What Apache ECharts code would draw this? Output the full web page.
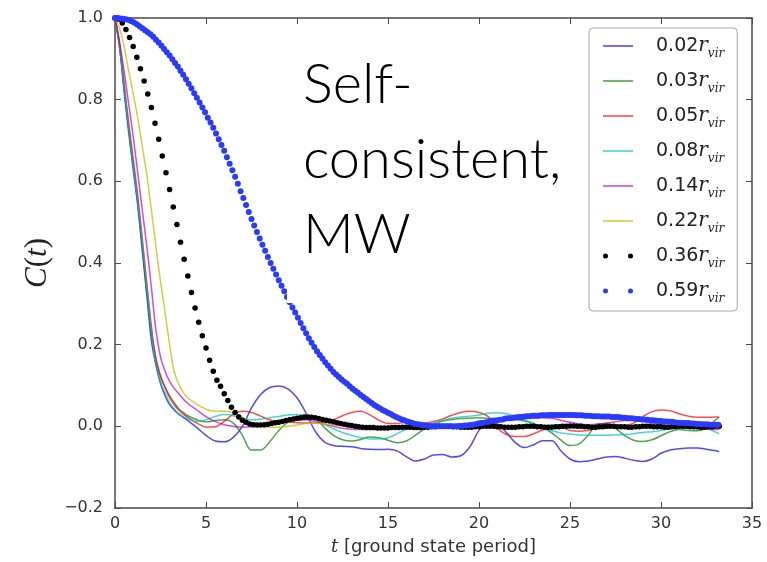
<!DOCTYPE html>
<html><head><meta charset="utf-8">
<script src="https://cdn.jsdelivr.net/npm/echarts@6/dist/echarts.min.js"></script>
<style>html,body{margin:0;padding:0;background:#fff}#c{width:767px;height:562px}</style>
</head><body><div id="c"></div>
<script>
// ---- data ----
const seriesNames = ['0.02','0.03','0.05','0.08','0.14','0.22','0.36','0.59'];
const xTicks = [0,5,10,15,20,25,30,35];
const yTicks = [-0.2,0,0.2,0.4,0.6,0.8,1.0];

const tLine = [0,0.25,0.5,0.75,1,1.25,1.5,1.75,2,2.25,2.5,2.75,3,3.25,3.5,3.75,4,
 4.5,5,5.5,6,6.5,7,7.5,8,8.5,9,9.5,10,10.5,11,11.5,12,12.5,13,13.5,14,14.5,15,15.5,16,16.5,17,17.5,18,18.5,19,19.5,
 20,20.5,21,21.5,22,22.5,23,23.5,24,24.5,25,25.5,26,26.5,27,27.5,28,28.5,29,29.5,30,30.5,31,31.5,32,32.5,33,33.2];

const c002 = [1,0.93,0.82,0.72,0.63,0.54,0.43,0.32,0.21,0.15,0.105,0.075,0.053,0.04,0.03,0.022,0.014,
 -0.003,-0.022,-0.036,-0.038,-0.027,0.0,0.045,0.078,0.095,0.099,0.092,0.07,0.032,-0.012,-0.038,-0.047,-0.049,-0.05,-0.054,
 -0.056,-0.057,-0.056,-0.06,-0.074,-0.085,-0.08,-0.07,-0.069,-0.075,-0.072,-0.05,-0.01,0.008,0.006,-0.015,-0.04,-0.052,
 -0.045,-0.035,-0.035,-0.06,-0.08,-0.087,-0.085,-0.08,-0.075,-0.074,-0.078,-0.083,-0.086,-0.08,-0.066,-0.058,-0.055,
 -0.053,-0.053,-0.056,-0.06,-0.062];
const c003 = [1,0.93,0.83,0.73,0.64,0.55,0.44,0.33,0.23,0.165,0.12,0.097,0.075,0.058,0.043,0.034,0.026,
 0.016,0.011,0.014,0.016,0.008,-0.022,-0.058,-0.058,-0.038,-0.01,0.01,0.022,0.029,0.02,-0.003,-0.022,-0.033,-0.036,-0.032,
 -0.026,-0.028,-0.034,-0.04,-0.036,-0.022,-0.006,0.006,0.013,0.017,0.019,0.02,0.021,0.02,0.018,0.017,0.016,0.013,
 0.007,-0.003,-0.016,-0.034,-0.047,-0.043,-0.022,0.006,0.007,-0.005,-0.022,-0.034,-0.037,-0.033,-0.023,-0.013,-0.008,
 -0.01,-0.011,-0.004,0.016,0.022];
const c005 = [1,0.94,0.84,0.745,0.655,0.565,0.46,0.35,0.245,0.165,0.125,0.095,0.07,0.053,0.04,0.03,0.022,
 0.008,-0.002,-0.001,0.012,0.03,0.037,0.034,0.025,0.016,0.012,0.011,0.009,0.008,0.008,0.01,0.016,0.026,0.034,0.037,
 0.028,0.015,0.007,0.007,0.01,0.009,0.008,0.012,0.018,0.027,0.034,0.037,0.034,0.024,-0.004,-0.02,-0.025,-0.025,
 -0.018,-0.009,-0.003,-0.002,-0.01,-0.012,-0.01,-0.006,-0.004,-0.001,0.002,0.008,0.024,0.036,0.04,0.038,0.031,
 0.025,0.022,0.022,0.023,0.023];
const c008 = [1,0.93,0.83,0.73,0.64,0.55,0.45,0.34,0.235,0.15,0.11,0.082,0.058,0.043,0.031,0.024,0.018,
 0.012,0.016,0.024,0.029,0.026,0.018,0.016,0.018,0.021,0.024,0.028,0.029,0.025,0.017,0.004,-0.006,-0.015,-0.022,-0.028,
 -0.031,-0.031,-0.028,-0.018,-0.007,0.0,0.004,0.008,0.014,0.02,0.023,0.025,0.028,0.032,0.033,0.031,0.024,0.016,
 0.006,-0.004,-0.011,-0.016,-0.019,-0.021,-0.022,-0.022,-0.022,-0.021,-0.02,-0.018,-0.015,-0.013,-0.01,-0.006,-0.003,
 -0.002,-0.002,-0.004,-0.014,-0.018];
const c014 = [1,0.94,0.87,0.79,0.71,0.62,0.53,0.44,0.34,0.235,0.17,0.135,0.11,0.093,0.08,0.067,0.056,
 0.04,0.024,0.012,0.004,0.0,-0.002,-0.001,0.002,0.005,0.009,0.012,0.015,0.016,0.012,0.006,0.0,-0.005,-0.007,-0.008,
 -0.008,-0.007,-0.006,-0.004,-0.002,-0.001,0.0,0.001,0.002,0.003,0.004,0.006,0.008,0.011,0.014,0.016,0.018,0.02,
 0.021,0.021,0.02,0.015,0.01,0.006,0.004,0.005,0.008,0.011,0.014,0.014,0.012,0.008,0.004,0.001,-0.002,
 -0.004,-0.006,-0.007,-0.008,-0.008];
const c022 = [1,0.975,0.93,0.87,0.815,0.755,0.685,0.615,0.53,0.44,0.355,0.28,0.2,0.135,0.103,0.083,0.07,
 0.054,0.042,0.037,0.037,0.034,0.022,0.008,0.001,-0.002,-0.002,0.0,0.003,0.007,0.008,0.006,0.004,0.001,-0.002,-0.004,
 -0.004,-0.004,-0.003,-0.002,-0.001,0.0,0.0,0.001,0.001,0.002,0.002,0.002,0.002,0.001,0.001,0.0,0.0,0.001,
 0.001,0.002,0.003,0.004,0.004,0.004,0.003,0.002,0.001,0.0,-0.001,-0.002,-0.002,-0.002,-0.001,0.0,0.001,
 0.001,0.001,0.0,0.0,0.0];

const dotStep036 = 0.2;
const c036 = [
 1.000,0.997,0.988,0.972,0.952,0.930,0.904,0.876,0.846,0.814,
 0.781,0.742,0.703,0.662,0.621,0.580,0.537,0.494,0.451,0.409,
 0.368,0.328,0.290,0.255,0.222,0.192,0.162,0.135,0.113,0.098,
 0.080,0.063,0.047,0.034,0.023,0.015,0.010,0.006,0.004,0.003,
 0.003,0.004,0.005,0.007,0.009,0.010,0.012,0.014,0.016,0.018,
 0.020,0.021,0.022,0.022,0.022,0.021,0.019,0.017,0.015,0.013,
 0.011,0.009,0.007,0.005,0.003,0.002,0.000,-0.001,-0.002,-0.003,
 -0.003,-0.003,-0.004,-0.004,-0.004,-0.004,-0.003,-0.003,-0.003,-0.002,
 -0.002,-0.002,-0.003,-0.003,-0.003,-0.002,-0.002,-0.001,-0.001,0.000,
 0.000,0.000,0.000,-0.001,-0.001,-0.002,-0.002,-0.002,-0.002,-0.001,
 -0.001,0.000,0.000,0.000,0.000,-0.001,-0.001,-0.002,-0.002,-0.002,
 -0.002,-0.001,-0.001,0.000,0.000,0.000,-0.001,-0.001,-0.002,-0.002,
 -0.002,-0.001,-0.001,0.000,0.000,0.001,0.001,0.000,0.000,-0.001,
 -0.001,-0.002,-0.002,-0.001,-0.001,0.000,0.000,0.000,-0.001,-0.001,
 -0.001,-0.002,-0.002,-0.001,-0.001,0.000,0.000,0.000,-0.001,-0.001,
 -0.001,-0.002,-0.002,-0.001,-0.001,0.000,0.000,0.000,-0.001,-0.001,
 -0.001,-0.002,-0.002,-0.001,-0.001,0.000,0.000];

const dotStep059 = 0.15;
const c059 = [
 1.000,1.000,0.999,0.998,0.997,0.995,0.992,0.989,0.985,0.980,
 0.975,0.970,0.965,0.960,0.954,0.947,0.940,0.932,0.924,0.916,
 0.908,0.899,0.890,0.881,0.871,0.861,0.850,0.839,0.828,0.816,
 0.805,0.793,0.781,0.769,0.756,0.744,0.731,0.717,0.703,0.689,
 0.675,0.659,0.643,0.627,0.611,0.594,0.576,0.559,0.542,0.525,
 0.508,0.492,0.476,0.460,0.445,0.430,0.415,0.400,0.386,0.372,
 0.358,0.344,0.331,0.317,0.304,0.291,0.279,0.266,0.253,0.240,
 0.228,0.216,0.205,0.194,0.184,0.175,0.166,0.157,0.149,0.141,
 0.133,0.127,0.121,0.115,0.109,0.104,0.098,0.092,0.087,0.082,
 0.077,0.072,0.067,0.062,0.057,0.052,0.048,0.044,0.040,0.037,
 0.033,0.030,0.026,0.023,0.020,0.017,0.015,0.012,0.010,0.008,
 0.006,0.005,0.004,0.002,0.002,0.001,0.000,0.000,0.000,0.000,
 0.000,0.000,0.000,0.000,0.000,0.000,0.001,0.001,0.002,0.002,
 0.003,0.004,0.005,0.007,0.008,0.009,0.010,0.011,0.013,0.014,
 0.015,0.016,0.017,0.019,0.020,0.020,0.021,0.022,0.023,0.023,
 0.024,0.025,0.025,0.026,0.026,0.026,0.027,0.027,0.027,0.028,
 0.028,0.028,0.028,0.028,0.028,0.028,0.028,0.028,0.028,0.027,
 0.027,0.027,0.026,0.026,0.026,0.025,0.025,0.025,0.024,0.024,
 0.024,0.024,0.023,0.023,0.023,0.022,0.021,0.021,0.020,0.020,
 0.019,0.018,0.018,0.017,0.017,0.016,0.015,0.015,0.014,0.013,
 0.013,0.012,0.012,0.011,0.011,0.010,0.009,0.009,0.008,0.008,
 0.008,0.007,0.007,0.006,0.006,0.005,0.005,0.005,0.004,0.004,
 0.004,0.004];

const annotationLines = ['Self-','consistent,','MW'];

// ---- styles ----
const lineColors = ['rgba(0,0,255,0.7)','rgba(0,128,0,0.7)','rgba(255,0,0,0.7)','rgba(0,191,191,0.7)','rgba(191,0,191,0.7)','rgba(191,191,0,0.75)'];
const dotColors = ['#000000','#2a3aff'];

const lineValues = [c002,c003,c005,c008,c014,c022];
const pairs = (xs, ys) => ys.map((v,i)=>[xs[i], v]);
const dots = (step, ys) => ys.map((v,i)=>[+(i*step).toFixed(3), v]);

const series = [];
lineValues.forEach((vals,k)=>{
  series.push({name: seriesNames[k], type:'line', data: pairs(tLine, vals), smooth: 0.35,
    showSymbol:false, symbol:'none', color: lineColors[k],
    lineStyle:{width:1.5, color: lineColors[k]}, z: 2 + k});
});
series.push({name: seriesNames[6], type:'scatter', data: dots(dotStep036, c036), symbolSize:5.5,
  itemStyle:{color: dotColors[0], opacity:1}, color: dotColors[0], z: 9});
series.push({name: seriesNames[7], type:'scatter', data: dots(dotStep059, c059), symbolSize:6,
  itemStyle:{color: dotColors[1], opacity:1}, color: dotColors[1], z: 10});

const linePath = 'path://M0,2.2H30V3.8H0Z';
const dotPath = 'path://M0,2.5a2.5,2.5 0 1,0 5,0a2.5,2.5 0 1,0 -5,0ZM25,2.5a2.5,2.5 0 1,0 5,0a2.5,2.5 0 1,0 -5,0Z';

const axisCol = '#4a4a4a';
const tickLbl = {fontFamily:'DejaVu Sans', fontSize:16, color:'#333'};
const fmtY = v => (v < 0 ? '\u2212' : '') + Math.abs(v).toFixed(1);

const chart = echarts.init(document.getElementById('c'), null, {renderer:'canvas'});
chart.setOption({
  animation:false,
  backgroundColor:'#fff',
  grid:{left:115, right:15, top:18, bottom:54, containLabel:false},
  xAxis:[
    {type:'value', min:xTicks[0], max:xTicks[xTicks.length-1], interval:5, position:'bottom',
     axisLine:{show:true, onZero:false, lineStyle:{color:axisCol, width:1.5}},
     axisTick:{show:true, inside:true, length:6, lineStyle:{color:axisCol}},
     axisLabel:Object.assign({margin:8}, tickLbl),
     splitLine:{show:false},
     name:'{t|t} [ground state period]', nameLocation:'middle', nameGap:30,
     nameTextStyle:{fontFamily:'DejaVu Sans', fontSize:18, color:'#333',
       rich:{t:{fontFamily:'DejaVu Serif', fontStyle:'italic', fontSize:18, color:'#333'}}}},
    {type:'value', min:xTicks[0], max:xTicks[xTicks.length-1], interval:5, position:'top',
     axisLine:{show:true, onZero:false, lineStyle:{color:axisCol, width:1.5}},
     axisTick:{show:true, inside:true, length:6, lineStyle:{color:axisCol}},
     axisLabel:{show:false}, splitLine:{show:false}}
  ],
  yAxis:[
    {type:'value', min:yTicks[0], max:yTicks[yTicks.length-1], interval:0.2, position:'left',
     axisLine:{show:true, onZero:false, lineStyle:{color:axisCol, width:1.5}},
     axisTick:{show:true, inside:true, length:6, lineStyle:{color:axisCol}},
     axisLabel:Object.assign({margin:12, formatter: fmtY}, tickLbl),
     splitLine:{show:false},
     name:'{c|C}{p|(}{c|t}{p|)}', nameLocation:'middle', nameGap:60, nameRotate:90,
     nameTextStyle:{rich:{
       c:{fontFamily:'Liberation Serif', fontStyle:'italic', fontSize:31, color:'#222'},
       p:{fontFamily:'Liberation Serif', fontSize:31, color:'#222'}}}},
    {type:'value', min:yTicks[0], max:yTicks[yTicks.length-1], interval:0.2, position:'right',
     axisLine:{show:true, onZero:false, lineStyle:{color:axisCol, width:1.5}},
     axisTick:{show:true, inside:true, length:6, lineStyle:{color:axisCol}},
     axisLabel:{show:false}, splitLine:{show:false}}
  ],
  legend:{
    orient:'vertical', left:589, top:28, z:20,
    padding:[8,13,6,14], itemWidth:30, itemHeight:6, itemGap:11,
    backgroundColor:'#fff', borderColor:'#a8a8a8', borderWidth:1, borderRadius:4,
    data: seriesNames.map((n,i)=>({name:n, icon: i<6 ? linePath : dotPath})),
    formatter: n => '{a|' + n + '}{r|r}{s|vir}',
    textStyle:{rich:{
      a:{fontFamily:'DejaVu Sans', fontSize:19, color:'#222', lineHeight:28, padding:[0,0,0,18]},
      r:{fontFamily:'DejaVu Serif', fontStyle:'italic', fontSize:20, color:'#222', lineHeight:28},
      s:{fontFamily:'DejaVu Serif', fontStyle:'italic', fontSize:12, color:'#222', lineHeight:12, verticalAlign:'bottom'}
    }}
  },
  series: series,
  graphic:[
    {type:'rect', shape:{x:287, y:60, width:290, height:243}, style:{fill:'#fff'}, z:100},
    {type:'text', x:303, y:85, z:101, style:{text:annotationLines[0], font:'300 56px Lato', fill:'#000', verticalAlign:'middle'}},
    {type:'text', x:303, y:160, z:101, style:{text:annotationLines[1], font:'300 56px Lato', fill:'#000', verticalAlign:'middle'}},
    {type:'text', x:303, y:235, z:101, style:{text:annotationLines[2], font:'300 56px Lato', fill:'#000', verticalAlign:'middle'}}
  ]
});
</script>
</body></html>
